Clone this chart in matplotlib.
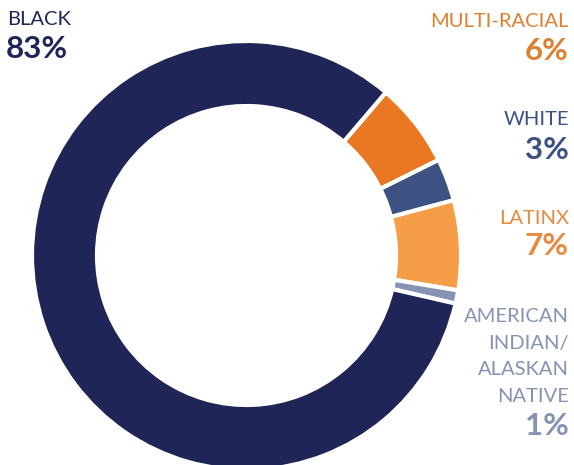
import matplotlib
matplotlib.use("Agg")
import matplotlib.pyplot as plt

# data (clockwise starting at the top right)
groups = ["MULTI-RACIAL", "WHITE", "LATINX", "AMERICAN\nINDIAN/\nALASKAN\nNATIVE", "BLACK"]
shares = [6.4, 3.2, 6.75, 1.0, 82.65]
pct_labels = ["6%", "3%", "7%", "1%", "83%"]
colors = ["#ea7722", "#3b5282", "#f59d47", "#8793b4", "#1f2556"]
text_colors = ["#df7f30", "#3b5282", "#e88a3e", "#8793b4", "#1f2556"]

W, H = 574, 465
fig = plt.figure(figsize=(W / 100, H / 100), dpi=100)
ax = fig.add_axes([0, 0, 1, 1])

cx, cy, r = 246.5, 255.5, 214.5
# axis is flipped below, so the startangle/direction is mirrored
ax.pie(shares, colors=colors, startangle=-49.5, counterclock=True,
       center=(cx, cy), radius=r, frame=True,
       wedgeprops=dict(width=65, edgecolor="white", linewidth=3))
ax.set_xlim(0, W)
ax.set_ylim(H, 0)
ax.set_aspect("equal")
ax.axis("off")

name_font = dict(family=["Lato", "DejaVu Sans"], fontsize=14.5, fontweight="normal")
pct_font = dict(family=["Lato", "DejaVu Sans"], fontsize=22.5, fontweight="bold")

# BLACK on the left
ax.text(7, 25, groups[4], ha="left", va="baseline", color=text_colors[4], **name_font)
ax.text(6, 58, pct_labels[4], ha="left", va="baseline", color=text_colors[4], **pct_font)

# right side labels
rx = 569
ax.text(rx, 27, groups[0], ha="right", va="baseline", color=text_colors[0], **name_font)
ax.text(rx, 60, pct_labels[0], ha="right", va="baseline", color=text_colors[0], **pct_font)
ax.text(rx, 125, groups[1], ha="right", va="baseline", color=text_colors[1], **name_font)
ax.text(rx, 159, pct_labels[1], ha="right", va="baseline", color=text_colors[1], **pct_font)
ax.text(rx, 224, groups[2], ha="right", va="baseline", color=text_colors[2], **name_font)
ax.text(rx, 255, pct_labels[2], ha="right", va="baseline", color=text_colors[2], **pct_font)
for i, line in enumerate(groups[3].split("\n")):
    ax.text(rx, 322 + i * 26.7, line, ha="right", va="baseline", color=text_colors[3], **name_font)
ax.text(rx, 435, pct_labels[3], ha="right", va="baseline", color=text_colors[3], **pct_font)

fig.savefig("out.png", dpi=100)
